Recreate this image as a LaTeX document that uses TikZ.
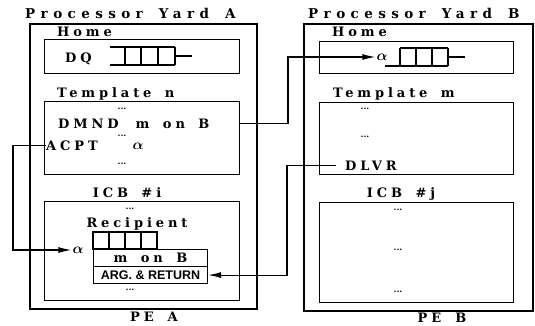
\documentclass[tikz,border=0pt]{standalone}
\usepackage{fontspec}
\usepackage{bm}
\setmainfont{DejaVu Serif}
\newfontfamily\yardfont[LetterSpace=30,WordSpace=1.6]{DejaVu Serif}
\newfontfamily\titlefont[LetterSpace=40,WordSpace=1.6]{DejaVu Serif}
\newfontfamily\argfont{Liberation Sans}
\usetikzlibrary{arrows.meta,positioning,calc}

\begin{document}
\begin{tikzpicture}[x=1pt, y=-1pt,
		yardbox/.style={draw, line width=1.5pt, anchor=north west, inner sep=0pt},
		panel/.style={draw, line width=1.1pt, anchor=north west, inner sep=0pt},
		title/.style={font=\titlefont\bfseries\fontsize{13.5}{13.5}\selectfont, anchor=base west, inner sep=0pt},
		lbl/.style={font=\yardfont\bfseries\fontsize{13}{13}\selectfont, anchor=base west, inner sep=0pt},
		dots/.style={font=\bfseries\fontsize{8.5}{8.5}\selectfont, inner sep=0pt},
		sym/.style={font=\Large, inner sep=1pt},
		wire/.style={line width=1.1pt},
		arr/.style={-{Latex[length=13pt,width=6pt]}, line width=1.1pt}]
	\useasboundingbox (0,0) rectangle (535,325);
	
	% Processor Yard A
	\node[yardbox, minimum width=227pt, minimum height=285pt] (peA) at (29,23) {};
	\node[title] (yardA) at (25,18) {Processor Yard A};
	\node[lbl, anchor=base] (peAlbl) at (154,321) {PE\hspace{14pt}A};
	
	\node[lbl] (homeAlbl) at (57,36) {Home};
	\node[panel, minimum width=195pt, minimum height=34pt] (homeA) at (44,39) {};
	\node[lbl] (dq) at (65,62) {DQ};
	\draw[wire] (110,47) -- (175,47) (110,65) -- (175,65)
		(125,47) -- (125,65) (141,47) -- (141,65) (158,47) -- (158,65) (175,47) -- (175,65)
		(175,56) -- (192,56);
	
	\node[lbl] (tmplAlbl) at (57,97) {Template n};
	\node[panel, minimum width=195pt, minimum height=73pt] (tmplA) at (44,101) {};
	\node[dots] at (122,109) {...};
	\node[lbl] (dmnd) at (58,128) {DMND\hspace{17pt}m on B};
	\node[dots] at (122,136) {...};
	\node[lbl] (acpt) at (46,150) {ACPT};
	\node[sym] (alphaA) at (138,146) {$\bm{\alpha}$};
	\node[dots] at (122,164) {...};
	
	\node[lbl, anchor=base] (icbAlbl) at (127,197) {ICB \#i};
	\node[panel, minimum width=195pt, minimum height=99pt] (icbA) at (44,201) {};
	\node[dots] at (130,209) {...};
	\node[lbl, anchor=base] (recip) at (137,227) {Recipient};
	\draw[wire] (93,232) rectangle (157,249) (109,232) -- (109,249) (125,232) -- (125,249) (141,232) -- (141,249);
	\node[panel, minimum width=114pt, minimum height=17pt, font=\yardfont\bfseries\fontsize{13}{13}\selectfont] (monB) at (93,249) {m on B};
	\node[panel, minimum width=114pt, minimum height=17pt, font=\argfont\bfseries\fontsize{12.5}{12.5}\selectfont] (argret) at (93,266) {ARG. \& RETURN};
	\node[dots] at (130,290) {...};
	\node[sym] (alphaR) at (78,250) {$\bm{\alpha}$};
	
	% Processor Yard B
	\node[yardbox, minimum width=229pt, minimum height=287pt] (peB) at (303,23) {};
	\node[title] (yardB) at (308,18) {Processor Yard B};
	\node[lbl, anchor=base] (peBlbl) at (442,322) {PE\hspace{14pt}B};
	
	\node[lbl] (homeBlbl) at (332,36) {Home};
	\node[panel, minimum width=194pt, minimum height=32pt] (homeB) at (319,41) {};
	\node[sym] (alphaB) at (382,57) {$\bm{\alpha}$};
	\draw[wire] (400,48) -- (448,48) (385,66) -- (448,66)
		(400,48) -- (400,66) (416,48) -- (416,66) (432,48) -- (432,66) (448,48) -- (448,66)
		(448,57) -- (465,57);
	
	\node[lbl] (tmplBlbl) at (333,97) {Template m};
	\node[panel, minimum width=194pt, minimum height=72pt] (tmplB) at (319,102) {};
	\node[dots] at (365,109) {...};
	\node[dots] at (365,137) {...};
	\node[lbl] (dlvr) at (345,170) {DLVR};
	
	\node[lbl, anchor=base] (icbBlbl) at (401,197) {ICB \#j};
	\node[panel, minimum width=194pt, minimum height=100pt] (icbB) at (319,202) {};
	\node[dots] at (398,210) {...};
	\node[dots] at (398,250) {...};
	\node[dots] at (398,292) {...};
	
	% message paths
	\coordinate (upA) at (288,0);
	\coordinate (leftA) at (13,0);
	\coordinate (downB) at (287,0);
	\draw[arr] (dmnd -| tmplA.east) -- (dmnd -| upA) -- (alphaB -| upA) -- (alphaB.west);
	\draw[arr] (acpt.west) -- (acpt -| leftA) -- (alphaR -| leftA) -- (alphaR.west);
	\draw[arr] ([xshift=-9pt]dlvr.west) -- (dlvr -| downB) -- (argret -| downB) -- (argret.east);
\end{tikzpicture}
\end{document}
